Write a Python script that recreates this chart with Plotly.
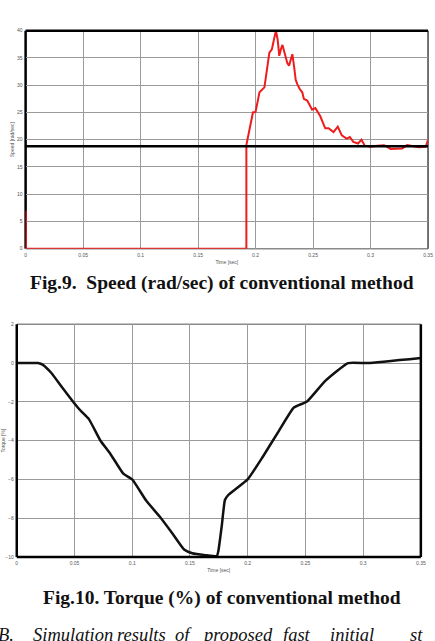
import plotly.graph_objects as go

W, H = 435, 641

# ---- Fig.9 data: speed (rad/sec) ----
speed_t = [0, 0.0003, 0.192, 0.192, 0.1977, 0.200, 0.2034, 0.2077, 0.212, 0.2142,
           0.2160, 0.2177, 0.2192, 0.2206, 0.2220, 0.2234, 0.2249, 0.2263, 0.2277,
           0.2291, 0.2306, 0.232, 0.2334, 0.2349, 0.2363, 0.2384, 0.2406, 0.242,
           0.2449, 0.2492, 0.252, 0.2563, 0.2606, 0.2635, 0.2678, 0.2715, 0.275,
           0.2792, 0.282, 0.285, 0.2892, 0.2921, 0.295, 0.300, 0.306, 0.3118,
           0.3175, 0.3232, 0.3275, 0.3318, 0.3375, 0.342, 0.348, 0.35]
speed_v = [7, 0, 0, 19.0, 25.0, 25.1, 28.7, 29.6, 36.0, 36.6,
           38.4, 40.0, 38.4, 35.4, 36.6, 37.4, 36.2, 35.1, 34.0,
           33.6, 34.8, 35.7, 33.6, 31.0, 30.2, 29.3, 28.7, 27.5,
           27.2, 25.5, 25.8, 24.3, 22.1, 22.1, 21.4, 22.4, 20.8,
           20.2, 20.5, 19.6, 19.3, 20.0, 18.9, 18.7, 18.9, 19.0,
           18.3, 18.4, 18.4, 19.0, 18.8, 18.6, 18.7, 20.0]
ref_t = [0, 0.35]
ref_v = [18.8, 18.8]

# ---- Fig.10 data: torque (%) ----
torque_t = [0, 0.0184, 0.0227, 0.0298, 0.0384, 0.0483, 0.0554, 0.0625, 0.0724, 0.081,
            0.0923, 0.1, 0.1122, 0.1236, 0.135, 0.1449, 0.152, 0.1633, 0.1733, 0.1746,
            0.1775, 0.1803, 0.1832, 0.2002, 0.213, 0.2272, 0.24, 0.2514, 0.267, 0.2869,
            0.3039, 0.35]
torque_v = [0, 0, -0.09, -0.5, -1.18, -1.95, -2.46, -2.89, -3.99, -4.67,
            -5.7, -6.0, -7.1, -7.9, -8.8, -9.61, -9.8, -9.9, -9.95, -9.7,
            -8.42, -7.06, -6.8, -5.98, -4.84, -3.48, -2.29, -1.98, -0.93, 0,
            0, 0.26]

x_ticks = [0, 0.05, 0.1, 0.15, 0.2, 0.25, 0.3, 0.35]
x_ticklabels = ["0", "0.05", "0.1", "0.15", "0.2", "0.25", "0.3", "0.35"]
speed_ticks = [0, 5, 10, 15, 20, 25, 30, 35, 40]
torque_ticks = [-10, -8, -6, -4, -2, 0, 2]

caption1 = "Fig.9.  Speed (rad/sec) of conventional method"
caption2 = "Fig.10. Torque (%) of conventional method"
body_words = ["B.", "Simulation", "results", "of", "proposed", "fast", "initial", "st"]
body_x = [-6, 29, 115, 174, 201, 284, 331, 413]


def px_x(p):
    return p / W


def px_y(p):
    return (H - p) / H


fig = go.Figure()

fig.add_trace(go.Scatter(x=speed_t, y=speed_v, mode="lines",
                         line=dict(color="#ee1c1c", width=2), xaxis="x", yaxis="y",
                         showlegend=False, cliponaxis=False))
fig.add_trace(go.Scatter(x=ref_t, y=ref_v, mode="lines",
                         line=dict(color="#000000", width=2.5), xaxis="x", yaxis="y",
                         showlegend=False))
fig.add_trace(go.Scatter(x=torque_t, y=torque_v, mode="lines",
                         line=dict(color="#111111", width=2.5, shape="spline", smoothing=0.4),
                         xaxis="x2", yaxis="y2", showlegend=False))

tickfont = dict(family="Liberation Sans", size=5, color="#555555")
titlefont = dict(family="Liberation Sans", size=5, color="#555555")
grid = dict(showgrid=True, gridcolor="#9a9a9a", gridwidth=1, zeroline=False,
            showline=False, ticks="", tickfont=tickfont)

fig.update_layout(
    width=W, height=H,
    margin=dict(l=0, r=0, t=0, b=0),
    paper_bgcolor="white", plot_bgcolor="white",
    xaxis=dict(domain=[px_x(24), px_x(433)], range=[0, 0.35], anchor="y",
               tickvals=x_ticks, ticktext=x_ticklabels, ticklabelstandoff=2,
               title=dict(text="Time [sec]", font=titlefont, standoff=3), **grid),
    yaxis=dict(domain=[px_y(248), px_y(28)], range=[0, 40], anchor="x",
               tickvals=speed_ticks, ticklabelstandoff=2,
               title=dict(text="Speed [rad/sec]", font=titlefont, standoff=2), **grid),
    xaxis2=dict(domain=[px_x(15), px_x(425.7)], range=[0, 0.35], anchor="y2",
                tickvals=x_ticks, ticktext=x_ticklabels, ticklabelstandoff=2,
                title=dict(text="Time [sec]", font=titlefont, standoff=3), **grid),
    yaxis2=dict(domain=[px_y(559.3), px_y(324.3)], range=[-10, 2], anchor="x2",
                tickvals=torque_ticks, ticklabelstandoff=2,
                title=dict(text="Torque [%]", font=titlefont, standoff=2), **grid),
)


# frame lines for each plot
def frame(xr, yr, top, left, bottom, right):
    for (x0, y0, x1, y1), st in [((0, 1, 1, 1), top), ((0, 0, 0, 1), left),
                                 ((0, 0, 1, 0), bottom), ((1, 0, 1, 1), right)]:
        fig.add_shape(type="line", xref=xr + " domain", yref=yr + " domain",
                      x0=x0, y0=y0, x1=x1, y1=y1, line=dict(color=st[0], width=st[1]),
                      layer=st[2])


frame("x", "y", ("#000000", 2.5, "above"), ("#000000", 2.5, "below"),
      ("#8a8a8a", 1.5, "below"), ("#444444", 1.5, "below"))
frame("x2", "y2", ("#8a8a8a", 1.5, "below"), ("#000000", 2.5, "above"),
      ("#000000", 2.5, "above"), ("#000000", 2.5, "above"))

serif = "Liberation Serif"
fig.add_annotation(text="<b>" + caption1 + "</b>", xref="paper", yref="paper",
                   x=px_x(224), y=px_y(283), xanchor="center", yanchor="middle",
                   showarrow=False, font=dict(family=serif, size=19.5, color="#111111"))
fig.add_annotation(text="<b>" + caption2 + "</b>", xref="paper", yref="paper",
                   x=px_x(224), y=px_y(600.5), xanchor="center", yanchor="middle",
                   showarrow=False, font=dict(family=serif, size=19.5, color="#111111"))
for wd, xp in zip(body_words, body_x):
    fig.add_annotation(text="<i>" + wd + "</i>", xref="paper", yref="paper",
                       x=px_x(xp), y=px_y(638), xanchor="left", yanchor="middle",
                       showarrow=False, font=dict(family=serif, size=18.5, color="#111111"))

fig.write_html("out.html")
